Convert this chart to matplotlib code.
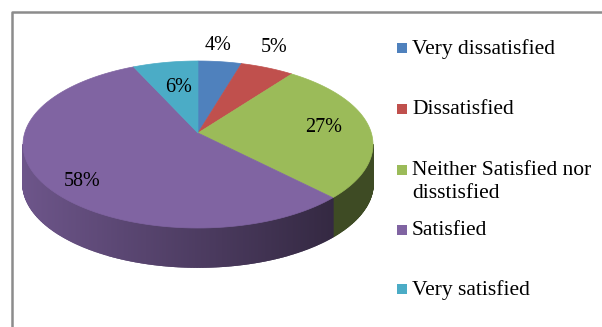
import numpy as np
import matplotlib.pyplot as plt
from matplotlib.patches import Polygon, Rectangle

categories = ['Very dissatisfied', 'Dissatisfied', 'Neither Satisfied nor\ndisstisfied',
              'Satisfied', 'Very satisfied']
values = [4, 5, 27, 58, 6]
labels = ['4%', '5%', '27%', '58%', '6%']
colors = ['#4F81BD', '#C0504D', '#9BBB59', '#8064A2', '#4BACC6']

# geometry in pixel units
W, H = 602, 327
cx, cy = 198, 144.5
apex = (198, 133)
a, b = 175, 83.5
depth = 39
label_pos = [(218, 45), (274, 47), (324, 127), (82, 181), (179, 87)]

plt.rcParams['font.family'] = ['Liberation Serif', 'DejaVu Serif']

fig = plt.figure(figsize=(W / 100, H / 100), dpi=100)
ax = fig.add_axes([0, 0, 1, 1])
ax.set_xlim(0, W)
ax.set_ylim(H, 0)
ax.axis('off')


def rim(t):
    t = np.radians(t)
    return cx + a * np.sin(t), cy - b * np.cos(t)


def darken(c, f):
    c = np.array(plt.matplotlib.colors.to_rgb(c))
    return tuple(c * f)


bounds = np.concatenate([[0], np.cumsum(values)]) / sum(values) * 360

# side walls (visible front half, 90..270 deg)
for i, col in enumerate(colors):
    t0, t1 = max(bounds[i], 90), min(bounds[i + 1], 270)
    if t1 <= t0:
        continue
    n = int((t1 - t0) * 2) + 2
    ts = np.linspace(t0, t1, n)
    for k in range(n - 1):
        x0, y0 = rim(ts[k])
        x1, y1 = rim(ts[k + 1])
        xm = (x0 + x1) / 2
        # lighter on left, darker on right
        f = 0.85 - 0.5 * (xm - (cx - a)) / (2 * a)
        if col == '#9BBB59':
            f = 0.4
        poly = [(x0, y0), (x1, y1), (x1, y1 + depth), (x0, y0 + depth)]
        ax.add_patch(Polygon(poly, closed=True, facecolor=darken(col, f),
                             edgecolor=darken(col, f), lw=1.2))

# top faces
for i, col in enumerate(colors):
    ts = np.linspace(bounds[i], bounds[i + 1], 100)
    xs, ys = rim(ts)
    pts = [apex] + list(zip(xs, ys))
    ax.add_patch(Polygon(pts, closed=True, facecolor=col, edgecolor=col, lw=0.5))

for (x, y), t in zip(label_pos, labels):
    ax.text(x, y, t, fontsize=14.5, ha='center', va='center', color='black')

# legend
ly = [48, 109, 170, 230, 289]
for y, col, name in zip(ly, colors, categories):
    ax.add_patch(Rectangle((397, y - 5), 10, 10, facecolor=col, edgecolor='none'))
    ax.text(412, y - 9, name, fontsize=15.5, ha='left', va='top',
            linespacing=1.3, color='black')

# frame
ax.plot([12, 12, W + 5], [H + 5, 12, 12], color='#8c8c8c', lw=1.8,
        solid_capstyle='butt', clip_on=False)

fig.savefig('out.png', dpi=100)
